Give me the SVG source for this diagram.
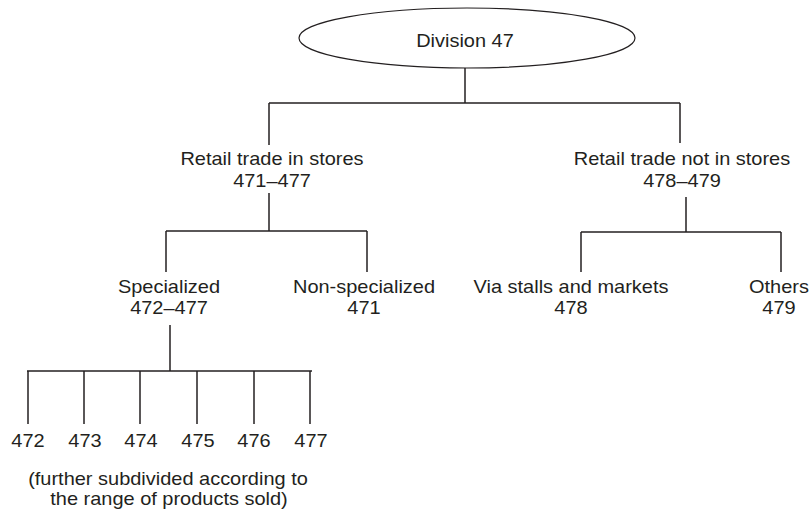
<svg xmlns="http://www.w3.org/2000/svg" width="811" height="510" viewBox="0 0 811 510">
<style>
text{font-family:"Liberation Sans",Arial,sans-serif;font-size:18px;fill:#231f20;text-anchor:middle;transform-box:fill-box;transform-origin:center;transform:scaleX(1.11)}
.c line{stroke:#231f20;stroke-width:1.5}
</style>
<rect width="811" height="510" fill="#fff"/>
<g class="c" id="connectors">
<line x1="465" y1="68" x2="465" y2="103"/>
<line x1="269" y1="103" x2="680" y2="103"/>
<line x1="269" y1="103" x2="269" y2="145"/>
<line x1="680" y1="103" x2="680" y2="143"/>
<line x1="269" y1="193" x2="269" y2="231"/>
<line x1="166" y1="231" x2="367" y2="231"/>
<line x1="166" y1="231" x2="166" y2="272"/>
<line x1="367" y1="231" x2="367" y2="272"/>
<line x1="686" y1="197" x2="686" y2="232"/>
<line x1="581" y1="232" x2="781" y2="232"/>
<line x1="581" y1="232" x2="581" y2="272"/>
<line x1="781" y1="232" x2="781" y2="272"/>
<line x1="170" y1="325" x2="170" y2="371"/>
<line x1="27" y1="371" x2="312" y2="371"/>
<line x1="28" y1="371" x2="28" y2="424"/>
<line x1="84" y1="371" x2="84" y2="424"/>
<line x1="140" y1="371" x2="140" y2="424"/>
<line x1="197" y1="371" x2="197" y2="424"/>
<line x1="254" y1="371" x2="254" y2="424"/>
<line x1="310" y1="371" x2="310" y2="424"/>
</g>
<g id="division47">
<ellipse cx="467" cy="38" rx="168" ry="30" fill="#fff" stroke="#231f20" stroke-width="1.2"/>
<text x="465" y="47">Division 47</text>
</g>
<g id="instores">
<text x="272" y="165">Retail trade in stores</text>
<text x="272" y="187">471–477</text>
</g>
<g id="notinstores">
<text x="682" y="165">Retail trade not in stores</text>
<text x="682" y="187">478–479</text>
</g>
<g id="specialized">
<text x="169" y="293">Specialized</text>
<text x="169" y="314">472–477</text>
</g>
<g id="nonspecialized">
<text x="364" y="293">Non-specialized</text>
<text x="364" y="314">471</text>
</g>
<g id="stalls">
<text x="571" y="293">Via stalls and markets</text>
<text x="571" y="314">478</text>
</g>
<g id="others">
<text x="779" y="293">Others</text>
<text x="779" y="314">479</text>
</g>
<g id="n472"><text x="28" y="447">472</text></g>
<g id="n473"><text x="85" y="447">473</text></g>
<g id="n474"><text x="141" y="447">474</text></g>
<g id="n475"><text x="198" y="447">475</text></g>
<g id="n476"><text x="254" y="447">476</text></g>
<g id="n477"><text x="311" y="447">477</text></g>
<g id="note">
<text x="168" y="485">(further subdivided according to</text>
<text x="169" y="505">the range of products sold)</text>
</g>
</svg>
